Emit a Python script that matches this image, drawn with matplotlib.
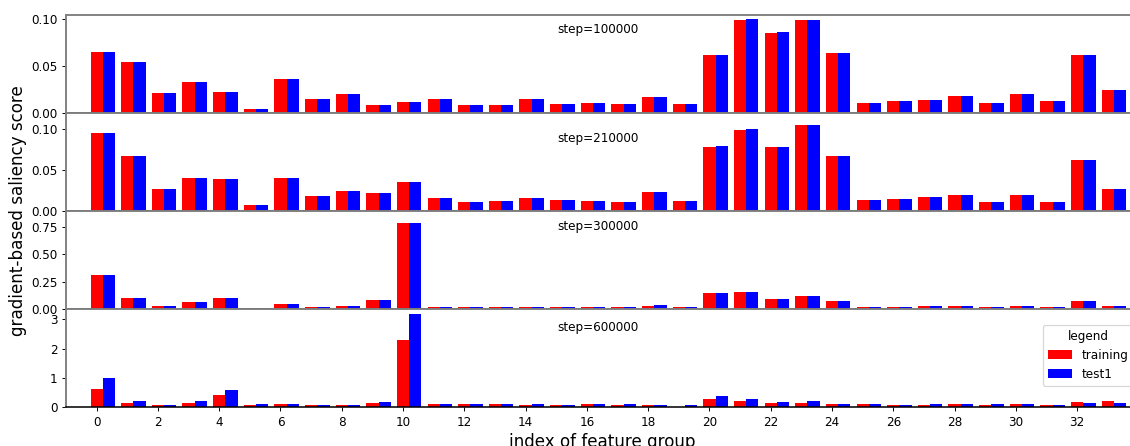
import numpy as np
import matplotlib
matplotlib.use("Agg")
import matplotlib.pyplot as plt

steps = ["step=100000", "step=210000", "step=300000", "step=600000"]
groups = list(range(34))

# step=100000
train_100k = [0.0646, 0.0539, 0.0207, 0.0325, 0.0218, 0.0046, 0.0357, 0.0143, 0.0196, 0.0079,
              0.0111, 0.0143, 0.0079, 0.0079, 0.0143, 0.0089, 0.0100, 0.0089, 0.0164, 0.0089,
              0.0614, 0.0989, 0.0850, 0.0989, 0.0636, 0.0100, 0.0121, 0.0132, 0.0175, 0.0100,
              0.0196, 0.0121, 0.0614, 0.0239]
test_100k = [0.0646, 0.0539, 0.0207, 0.0325, 0.0218, 0.0046, 0.0357, 0.0143, 0.0196, 0.0079,
             0.0111, 0.0143, 0.0079, 0.0079, 0.0143, 0.0089, 0.0100, 0.0089, 0.0164, 0.0089,
             0.0614, 0.1000, 0.0861, 0.0989, 0.0636, 0.0100, 0.0121, 0.0132, 0.0175, 0.0100,
             0.0196, 0.0121, 0.0614, 0.0239]

# step=210000
train_210k = [0.0947, 0.0667, 0.0264, 0.0398, 0.0386, 0.0069, 0.0398, 0.0179, 0.0240, 0.0215,
              0.0350, 0.0154, 0.0106, 0.0118, 0.0154, 0.0130, 0.0118, 0.0106, 0.0228, 0.0118,
              0.0776, 0.0984, 0.0776, 0.1045, 0.0667, 0.0130, 0.0142, 0.0167, 0.0191, 0.0106,
              0.0191, 0.0106, 0.0618, 0.0264]
test_210k = [0.0947, 0.0667, 0.0264, 0.0398, 0.0386, 0.0069, 0.0398, 0.0179, 0.0240, 0.0215,
             0.0350, 0.0154, 0.0106, 0.0118, 0.0154, 0.0130, 0.0118, 0.0106, 0.0228, 0.0118,
             0.0789, 0.0996, 0.0776, 0.1045, 0.0667, 0.0130, 0.0142, 0.0167, 0.0191, 0.0106,
             0.0191, 0.0106, 0.0618, 0.0264]

# step=300000
train_300k = [0.312, 0.101, 0.028, 0.064, 0.101, 0.009, 0.046, 0.018, 0.028, 0.083,
              0.781, 0.018, 0.018, 0.018, 0.018, 0.018, 0.018, 0.018, 0.028, 0.018,
              0.147, 0.156, 0.092, 0.119, 0.073, 0.018, 0.018, 0.028, 0.028, 0.018,
              0.028, 0.018, 0.073, 0.028]
test_300k = [0.312, 0.101, 0.028, 0.064, 0.101, 0.009, 0.046, 0.018, 0.028, 0.083,
             0.781, 0.018, 0.018, 0.018, 0.018, 0.018, 0.018, 0.018, 0.037, 0.018,
             0.147, 0.156, 0.092, 0.119, 0.073, 0.018, 0.018, 0.028, 0.028, 0.018,
             0.028, 0.018, 0.073, 0.028]

# step=600000
train_600k = [0.62, 0.15, 0.07, 0.15, 0.42, 0.07, 0.10, 0.07, 0.07, 0.15,
              2.29, 0.10, 0.10, 0.12, 0.07, 0.07, 0.10, 0.07, 0.07, 0.02,
              0.28, 0.215, 0.15, 0.15, 0.12, 0.10, 0.07, 0.07, 0.10, 0.07,
              0.10, 0.07, 0.18, 0.215]
test_600k = [1.00, 0.22, 0.07, 0.22, 0.59, 0.10, 0.10, 0.07, 0.07, 0.18,
             3.17, 0.10, 0.10, 0.12, 0.10, 0.07, 0.10, 0.10, 0.07, 0.07,
             0.385, 0.28, 0.18, 0.215, 0.12, 0.10, 0.07, 0.10, 0.10, 0.10,
             0.10, 0.07, 0.15, 0.15]

train = [train_100k, train_210k, train_300k, train_600k]
test = [test_100k, test_210k, test_300k, test_600k]
ylims = [0.1045, 0.1195, 0.894, 3.34]
text_y = [0.853, 0.742, 0.837, 0.817]

W, H, DPI = 1130, 446, 86
fig = plt.figure(figsize=(W / DPI, H / DPI), dpi=DPI)
axes = fig.subplots(4, 1, sharex=True, gridspec_kw=dict(hspace=0))
fig.subplots_adjust(left=66 / W, right=1138.4 / W, top=1 - 14.7 / H, bottom=1 - 407.3 / H)

x = np.array(groups)
width = 0.4
for ax, tr, te, lim, label, ty in zip(axes, train, test, ylims, steps, text_y):
    ax.bar(x, tr, width, color="red", label="training")
    ax.bar(x + width, te, width, color="blue", label="test1")
    ax.set_ylim(0, lim)
    ax.text(0.496, ty, label, transform=ax.transAxes, ha="center", va="center", fontsize=10)
    for s in ["left", "top", "right"]:
        ax.spines[s].set_color("#808080")
        ax.spines[s].set_linewidth(1.6)
    ax.spines["bottom"].set_linewidth(1.3)
    ax.tick_params(labelsize=10)

axes[-1].set_xlim(-1, 34)
axes[-1].set_xticks(range(0, 34, 2))
axes[-1].set_xlabel("index of feature group", fontsize=14)
fig.text(18 / W, 1 - 211 / H, "gradient-based saliency score", rotation=90,
         ha="center", va="center", fontsize=14)

handles, labels = axes[-1].get_legend_handles_labels()
axes[-1].legend(handles, labels, title="legend", loc="upper left",
                bbox_to_anchor=(1043 / W, 1 - 325 / H), bbox_transform=fig.transFigure,
                borderaxespad=0)

fig.savefig("out.png", dpi=DPI)
